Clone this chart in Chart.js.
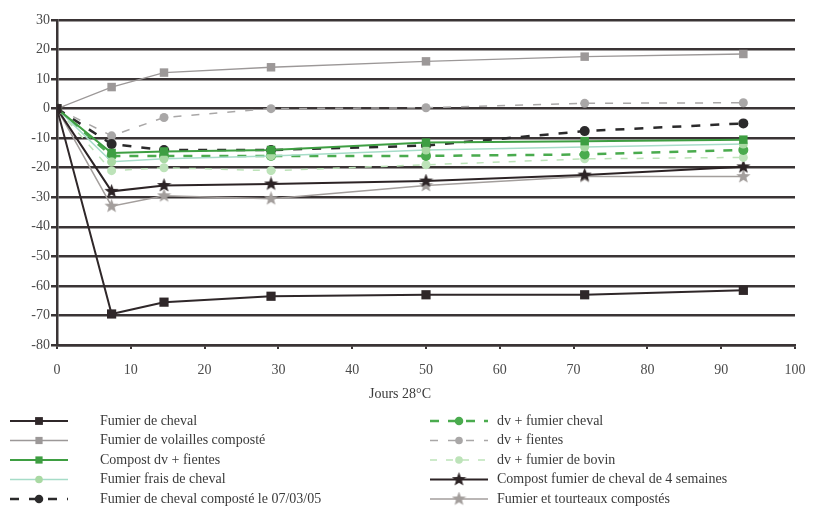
<!DOCTYPE html>
<html>
<head>
<meta charset="utf-8">
<script src="https://cdn.jsdelivr.net/npm/chart.js@4.4.1/dist/chart.umd.min.js"></script>
<style>
  html, body { margin: 0; padding: 0; background: #fff; }
  #wrap { width: 828px; height: 513px; position: relative; }
</style>
</head>
<body>
<div id="wrap"><canvas id="chart" width="828" height="513"></canvas></div>
<script>
// days of incubation at 28°C
const days = [0, 7.4, 14.5, 29, 50, 71.5, 93];

const fumierCheval      = [0, -69.5, -65.5, -63.5, -63, -63, -61.5];
const volaillesComposte = [0, 7.3, 12.2, 14, 16, 17.6, 18.5];
const compostDvFientes  = [0, -15, -14.5, -14, -11.5, -11, -10.5];
const fumierFrais       = [0, -18, -17, -16, -14, -13, -12];
const chevalComposte    = [0, -12, -14, -14, -12.5, -7.6, -5];
const dvFumierCheval    = [0, -16, -16, -16, -16, -15.5, -14];
const dvFientes         = [0, -9.2, -3, 0, 0.3, 1.8, 2];
const dvFumierBovin     = [0, -21, -20, -21, -19, -17, -16.5];
const compost4Semaines  = [0, -28, -26, -25.5, -24.5, -22.5, -19.7];
const tourteaux         = [0, -33, -29.5, -30.5, -26, -23, -23];

const labels = [
  'Fumier de cheval',
  'Fumier de volailles composté',
  'Compost dv + fientes',
  'Fumier frais de cheval',
  'Fumier de cheval composté le 07/03/05',
  'dv + fumier cheval',
  'dv + fientes',
  'dv + fumier de bovin',
  'Compost fumier de cheval de 4 semaines',
  'Fumier et tourteaux compostés',
];

const yTicks = { min: -80, max: 30, step: 10 };
const xTicks = { min: 0, max: 100, step: 10 };

const SERIF = '"Liberation Serif", "DejaVu Serif", serif';

// filled five point star used as marker
function makeStar(color, size) {
  const c = document.createElement('canvas');
  c.width = size; c.height = size;
  const g = c.getContext('2d');
  const cx = size / 2, cy = size / 2, ro = size / 2, ri = ro * 0.42;
  g.beginPath();
  for (let i = 0; i < 10; i++) {
    const r = i % 2 ? ri : ro;
    const a = -Math.PI / 2 + i * Math.PI / 5;
    g.lineTo(cx + r * Math.cos(a), cy + r * Math.sin(a));
  }
  g.closePath();
  g.fillStyle = color;
  g.fill();
  return c;
}

const toXY = arr => arr.map((v, i) => ({ x: days[i], y: v }));

function series(label, values, color, opts) {
  return Object.assign({
    label,
    data: toXY(values),
    borderColor: color,
    backgroundColor: color,
    pointBackgroundColor: color,
    pointBorderColor: color,
    borderWidth: 2,
    pointRadius: 4.5,
    pointBorderWidth: 0,
    pointStyle: 'circle',
    tension: 0,
  }, opts);
}

const datasets = [
  series(labels[0], fumierCheval, '#2f2729', { pointStyle: 'rect', pointRadius: 6.5, borderWidth: 2 }),
  series(labels[1], volaillesComposte, '#9c9898', { pointStyle: 'rect', pointRadius: 6, borderWidth: 1.3 }),
  series(labels[2], compostDvFientes, '#3e9e42', { pointStyle: 'rect', pointRadius: 6, borderWidth: 2 }),
  series(labels[3], fumierFrais, '#a6dcc8', { borderWidth: 1.5, pointBackgroundColor: '#a9d9a3', pointBorderColor: '#a9d9a3' }),
  series(labels[4], chevalComposte, '#2b2a2b', { borderDash: [9, 10], borderWidth: 2.5, pointRadius: 5 }),
  series(labels[5], dvFumierCheval, '#4aab4e', { borderDash: [9, 9], borderWidth: 2.5, pointRadius: 5 }),
  series(labels[6], dvFientes, '#a9a7a7', { borderDash: [8, 10], borderWidth: 1.5 }),
  series(labels[7], dvFumierBovin, '#bde3b9', { borderDash: [7, 9], borderWidth: 1.5 }),
  series(labels[8], compost4Semaines, '#2c2325', { pointStyle: makeStar('#2c2325', 15), borderWidth: 2 }),
  series(labels[9], tourteaux, '#a39e9c', { pointStyle: makeStar('#a39e9c', 15), borderWidth: 1.5 }),
];

// two column legend + axis title drawn under the plot
const legendPlugin = {
  id: 'bottomLegend',
  afterDraw(chart) {
    const ctx = chart.ctx;
    ctx.save();
    ctx.font = '14px ' + SERIF;
    ctx.fillStyle = '#3a3a3a';
    ctx.textBaseline = 'middle';
    ctx.textAlign = 'center';
    ctx.fillText('Jours 28°C', 400, 394);

    ctx.textAlign = 'left';
    const cols = [
      { x0: 10, x1: 68, tx: 100 },
      { x0: 430, x1: 488, tx: 497 },
    ];
    chart.data.datasets.forEach((ds, i) => {
      const col = cols[i < 5 ? 0 : 1];
      const y = 421 + (i % 5) * 19.5;
      ctx.save();
      ctx.strokeStyle = ds.borderColor;
      ctx.lineWidth = ds.borderWidth;
      ctx.setLineDash(ds.borderDash || []);
      ctx.beginPath();
      ctx.moveTo(col.x0, y);
      ctx.lineTo(col.x1, y);
      ctx.stroke();
      ctx.setLineDash([]);
      ctx.fillStyle = ds.pointBackgroundColor;
      ctx.strokeStyle = ds.pointBorderColor;
      Chart.helpers.drawPoint(ctx, {
        pointStyle: ds.pointStyle, radius: ds.pointRadius * 0.85, rotation: 0, borderWidth: 0,
      }, (col.x0 + col.x1) / 2, y);
      ctx.restore();
      ctx.fillText(ds.label, col.tx, y);
    });
    ctx.restore();
  },
};

new Chart(document.getElementById('chart'), {
  type: 'line',
  data: { datasets },
  plugins: [legendPlugin],
  options: {
    responsive: false,
    animation: false,
    layout: { padding: { top: 20, right: 33, left: 0, bottom: 0 } },
    plugins: {
      legend: { display: false },
      tooltip: { enabled: false },
    },
    scales: {
      x: {
        type: 'linear',
        min: xTicks.min,
        max: xTicks.max,
        afterFit: s => { s.height = 168; },
        grid: { drawOnChartArea: false, drawTicks: true, tickLength: 4, color: '#3a3435', lineWidth: 2 },
        border: { display: true, color: '#3a3435', width: 2.5 },
        ticks: { stepSize: xTicks.step, color: '#4a4a4a', padding: 13, font: { family: SERIF, size: 14 }, maxRotation: 0 },
      },
      y: {
        min: yTicks.min,
        max: yTicks.max,
        afterFit: s => { s.width = 57; },
        grid: { color: '#3a3435', lineWidth: 2.5, drawTicks: true, tickLength: 6 },
        border: { display: true, color: '#3a3435', width: 2.5 },
        ticks: { stepSize: yTicks.step, color: '#4a4a4a', padding: 1, font: { family: SERIF, size: 14 } },
      },
    },
  },
});
</script>
</body>
</html>
